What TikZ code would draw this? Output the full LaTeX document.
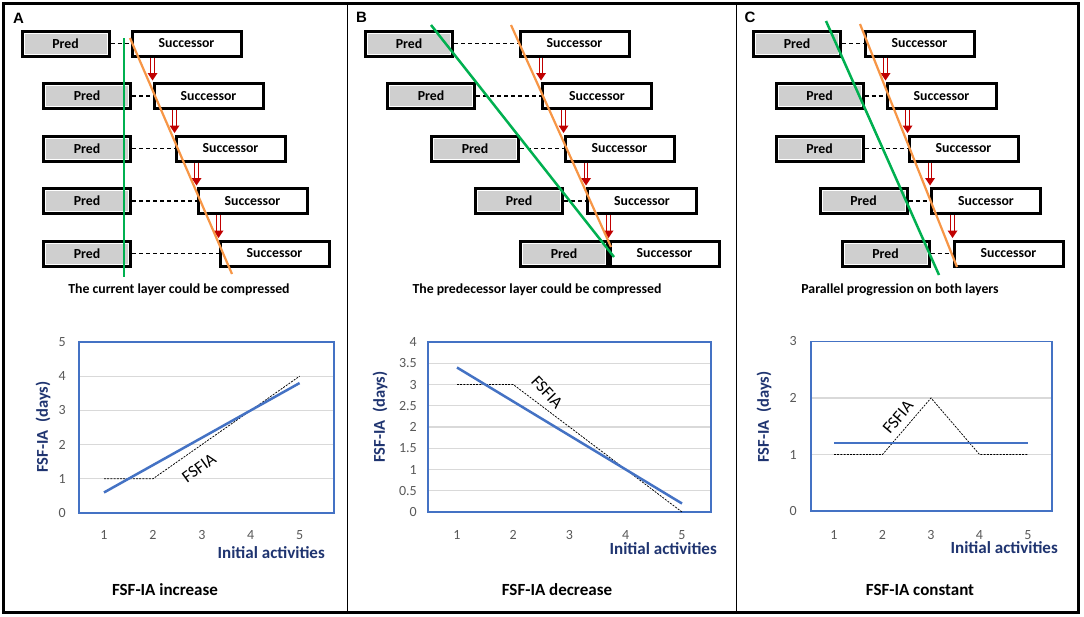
\documentclass[tikz,border=0pt]{standalone}
\usepackage{fontspec}
\setmainfont{Carlito}
\newfontfamily\arialfont{Liberation Sans}
\usetikzlibrary{arrows.meta,calc}
\definecolor{predgray}{HTML}{CFCFCF}
\definecolor{arrowred}{HTML}{C00000}
\definecolor{lgreen}{HTML}{00B050}
\definecolor{lorange}{HTML}{F79646}
\definecolor{chartblue}{HTML}{4472C4}
\definecolor{navy}{HTML}{1F3470}
\definecolor{gridgray}{HTML}{D9D9D9}
\definecolor{numgray}{HTML}{595959}
\tikzset{
  pred/.style={draw=black, line width=3pt, fill=predgray, minimum width=87pt, minimum height=25pt, inner sep=0pt, font=\bfseries\fontsize{13.8}{14}\selectfont,
    path picture={\draw[white, line width=0.9pt] ($(path picture bounding box.north west)+(2pt,-2pt)$) rectangle ($(path picture bounding box.south east)+(-2pt,2pt)$);}},
  succ/.style={draw=black, line width=3pt, fill=white, minimum width=109pt, minimum height=25pt, inner sep=0pt, font=\bfseries\fontsize{13.8}{14}\selectfont},
  dep/.style={draw=black, line width=1.2pt, dash pattern=on 4pt off 3pt},
  redshaft/.style={draw=arrowred, line width=1pt, double=white, double distance=2.2pt},
  redhead/.style={fill=arrowred},
  gline/.style={draw=lgreen, line width=2.5pt},
  oline/.style={draw=lorange, line width=2.2pt},
  letter/.style={font=\arialfont\bfseries\fontsize{15}{16}\selectfont, inner sep=0pt},
  topcap/.style={font=\bfseries\fontsize{13.8}{15}\selectfont, inner sep=0pt},
  botcap/.style={font=\bfseries\fontsize{17}{18}\selectfont, inner sep=0pt},
  xtitle/.style={font=\bfseries\fontsize{17}{18}\selectfont, text=navy, inner sep=0pt, anchor=east},
  ytitle/.style={font=\bfseries\fontsize{16.5}{18}\selectfont, text=navy, inner sep=0pt, rotate=90},
  num/.style={font=\fontsize{14}{15}\selectfont, text=numgray, inner sep=0pt},
  fsfia/.style={font=\fontsize{17}{18}\selectfont, inner sep=0pt},
  gridl/.style={draw=gridgray, line width=1.3pt},
  plotbox/.style={draw=chartblue, line width=1.2pt},
  bluel/.style={draw=chartblue, line width=2.5pt},
  dashl/.style={draw=black, line width=0.75pt, dash pattern=on 2pt off 1.2pt},
}
\begin{document}
\begin{tikzpicture}[x=1pt,y=-1pt]
\useasboundingbox (0,0) rectangle (1084,616);
\fill[white] (0,0) rectangle (1084,616);
% frame
\draw[line width=3pt] (3.5,3.5) rectangle (1078.5,612);
\draw[line width=1.6pt] (347.5,3.5) -- (347.5,612);
\draw[line width=1.6pt] (736.5,3.5) -- (736.5,612);
% letters
\node[letter] (la) at (18.5,18) {A};
\node[letter] (lb) at (361.5,17.5) {B};
\node[letter] (lc) at (750,17.5) {C};

% ---------- Panel A ----------
\foreach \i/\px/\sx in {1/65.5/186.5, 2/87/208.5, 3/87/230.5, 4/87/252.5, 5/87/274.5} {
  \node[pred] (aP\i) at (\px, {43.5+52.5*(\i-1)}) {Pred};
  \node[succ] (aS\i) at (\sx, {43.5+52.5*(\i-1)}) {Successor};
  \draw[dep] (aP\i.east) -- (aS\i.west);
}
% ---------- Panel B ----------
\foreach \i/\px/\sx in {1/409/574.5, 2/431/597, 3/475/619.5, 4/519/642, 5/564/664.5} {
  \node[pred] (bP\i) at (\px, {43.5+52.5*(\i-1)}) {Pred};
  \node[succ] (bS\i) at (\sx, {43.5+52.5*(\i-1)}) {Successor};
}
\foreach \i in {1,...,4} \draw[dep] (bP\i.east) -- (bS\i.west);
% ---------- Panel C ----------
\foreach \i/\px/\sx in {1/797/919.5, 2/819.5/941.5, 3/819.5/963.5, 4/863.5/986, 5/885.5/1008.5} {
  \node[pred] (cP\i) at (\px, {43.5+52.5*(\i-1)}) {Pred};
  \node[succ] (cS\i) at (\sx, {43.5+52.5*(\i-1)}) {Successor};
  \draw[dep] (cP\i.east) -- (cS\i.west);
}
% red arrows
\foreach \p in {a,b,c} {
  \foreach \i [evaluate=\i as \j using int(\i+1)] in {1,...,4} {
    \draw[redshaft] (\p S\i.south -| \p S\j.west) -- ([yshift=8pt]\p S\j.north west);
    \fill[redhead] ([xshift=-5pt,yshift=9pt]\p S\j.north west) -- ([xshift=5pt,yshift=9pt]\p S\j.north west) -- ([yshift=1.5pt]\p S\j.north west) -- cycle;
  }
}
% green / orange lines
\draw[gline] (124,38) -- (124,277);
\draw[oline] (130,38) -- (232,274);
\draw[gline] (431,25) -- (614,257);
\draw[oline] (511,25) -- (611,247);
\draw[gline] (826,21) -- (939,275);
\draw[oline] (860,24) -- (957,267);
% captions
\node[topcap] (capA) at (179,290) {The current layer could be compressed};
\node[topcap] (capB) at (537,290) {The predecessor layer could be compressed};
\node[topcap] (capC) at (900,290) {Parallel progression on both layers};

% ---------- Chart A ----------
\begin{scope}[shift={(104,513)}, x=48.9pt, y=34.2pt]
  \foreach \v in {1,...,4} \draw[gridl] (-0.511,\v) -- (4.703,\v);
  \draw[plotbox] (-0.511,0) rectangle (4.703,5);
  \foreach \v in {0,...,5} \node[num, anchor=east] at (-0.78,\v) {\v};
  \foreach \k in {1,...,5} \node[num] at (\k-1,-0.64) {\k};
  \draw[dashl] (0,1) -- (1,1) -- (4,4);
  \draw[bluel] (0,0.6) -- (4,3.8);
\end{scope}
\node[fsfia, rotate=36] (fa) at (199,468) {FSFIA};
\node[xtitle] (xa) at (325,553) {Initial activities};
\node[ytitle] (ya) at (43,427) {FSF-IA~~(days)};
\node[botcap] (ba) at (165,590) {FSF-IA increase};

% ---------- Chart B ----------
\begin{scope}[shift={(457,512)}, x=56.25pt, y=42.5pt]
  \foreach \v in {0.5,1,...,3.5} \draw[gridl] (-0.516,\v) -- (4.516,\v);
  \draw[plotbox] (-0.516,0) rectangle (4.516,4);
  \foreach \v/\t in {0/0,0.5/0.5,1/1,1.5/1.5,2/2,2.5/2.5,3/3,3.5/3.5,4/4} \node[num, anchor=east] at (-0.711,\v) {\t};
  \foreach \k in {1,...,5} \node[num] at (\k-1,-0.54) {\k};
  \draw[dashl] (0,3) -- (1,3) -- (4,0);
  \draw[bluel] (0,3.4) -- (4,0.2);
\end{scope}
\node[fsfia, rotate=-47] (fb) at (547,392) {FSFIA};
\node[xtitle] (xb) at (717,549) {Initial activities};
\node[ytitle] (yb) at (380,417) {FSF-IA~~(days)};
\node[botcap] (bb) at (557,590) {FSF-IA decrease};

% ---------- Chart C ----------
\begin{scope}[shift={(834,511)}, x=48.5pt, y=56.5pt]
  \foreach \v in {1,2} \draw[gridl] (-0.474,\v) -- (4.495,\v);
  \draw[plotbox] (-0.474,0) rectangle (4.495,3);
  \foreach \v in {0,...,3} \node[num, anchor=east] at (-0.763,\v) {\v};
  \foreach \k in {1,...,5} \node[num] at (\k-1,-0.423) {\k};
  \draw[dashl] (0,1) -- (1,1) -- (2,2) -- (3,1) -- (4,1);
  \draw[bluel] (0,1.2) -- (4,1.2);
\end{scope}
\node[fsfia, rotate=50] (fc) at (898,417) {FSFIA};
\node[xtitle] (xc) at (1058,548) {Initial activities};
\node[ytitle] (yc) at (764,417) {FSF-IA~~(days)};
\node[botcap] (bc) at (920,590) {FSF-IA constant};
\end{tikzpicture}
\end{document}
